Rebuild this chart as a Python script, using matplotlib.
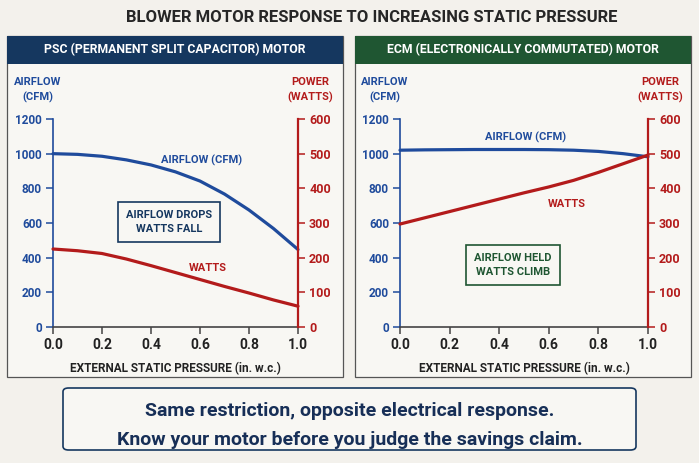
import numpy as np
import matplotlib.pyplot as plt
from matplotlib.patches import Rectangle, FancyBboxPatch

plt.rcParams['font.family'] = ['Roboto', 'DejaVu Sans']
plt.rcParams['font.weight'] = 'bold'

# data
pressure = [0.0, 0.1, 0.2, 0.3, 0.4, 0.5, 0.6, 0.7, 0.8, 0.9, 1.0]
psc_airflow = [1000, 996, 985, 964, 935, 895, 842, 767, 675, 568, 447]
psc_watts = [225, 220, 212, 196, 177, 157, 137, 117, 98, 78, 60]
ecm_airflow = [1020, 1022, 1023, 1024, 1024, 1024, 1023, 1020, 1013, 1000, 982]
ecm_watts = [297, 315, 333, 351, 369, 387, 404, 423, 446, 471, 496]

cfm_ticks = [0, 200, 400, 600, 800, 1000, 1200]
watt_ticks = [0, 100, 200, 300, 400, 500, 600]
x_ticks = [0.0, 0.2, 0.4, 0.6, 0.8, 1.0]

BG = '#f3f1ec'
PANEL = '#f8f7f3'
BLUE = '#1f4b9c'
RED = '#b31b1b'
NAVY = '#15375f'
GREEN = '#1f5632'
DARK = '#222222'

W, H = 699, 463
fig = plt.figure(figsize=(W / 100, H / 100), dpi=100, facecolor=BG)


def px(x, y):
    return x / W, 1 - y / H


def box(x0, y0, x1, y1, **kw):
    fig.patches.append(Rectangle((x0 / W, 1 - y1 / H), (x1 - x0) / W, (y1 - y0) / H,
                                 transform=fig.transFigure, **kw))


fig.text(*px(372, 18), 'BLOWER MOTOR RESPONSE TO INCREASING STATIC PRESSURE',
         ha='center', va='center', fontsize=12, color='#262626', weight='bold')


def panel(x0, x1, header, hcolor, ax_x0, ax_x1, airflow, watts,
          af_lbl, w_lbl, note, note_pos, note_color):
    box(x0, 36, x1, 377, facecolor=PANEL, edgecolor='#555555', lw=0.9, zorder=-2)
    box(x0, 36, x1, 64, facecolor=hcolor, edgecolor='none', zorder=-1)
    fig.text(*px((x0 + x1) / 2, 50), header, ha='center', va='center',
             color='white', fontsize=8.8, weight='bold')

    l, b = px(ax_x0, 327)
    ax = fig.add_axes([l, b, (ax_x1 - ax_x0) / W, 208 / H])
    ax.set_facecolor('none')
    ax2 = ax.twinx()

    ax.plot(pressure, airflow, color=BLUE, lw=2.3, solid_capstyle='round',
            solid_joinstyle='round', clip_on=False)
    ax2.plot(pressure, watts, color=RED, lw=2.3, solid_capstyle='round',
             solid_joinstyle='round', clip_on=False)

    ax.set_xlim(0, 1)
    ax.set_ylim(0, 1200)
    ax2.set_ylim(0, 600)
    ax.set_xticks(x_ticks)
    ax.set_xticklabels(['%.1f' % v for v in x_ticks])
    ax.set_yticks(cfm_ticks)
    ax2.set_yticks(watt_ticks)

    for a in (ax, ax2):
        a.spines['top'].set_visible(False)
    ax.spines['right'].set_visible(False)
    ax.spines['left'].set_color(BLUE)
    ax2.spines['left'].set_visible(False)
    ax2.spines['bottom'].set_visible(False)
    ax2.spines['right'].set_color(RED)
    ax2.spines['right'].set_linewidth(1.6)
    ax.spines['left'].set_linewidth(1.2)
    ax.spines['bottom'].set_color('#444444')
    ax.spines['bottom'].set_linewidth(1.2)

    ax.tick_params(axis='y', colors=BLUE, labelsize=8.5, length=5, width=1.1, pad=3)
    ax2.tick_params(axis='y', colors=RED, labelsize=9, length=5, width=1.1, pad=3)
    ax.tick_params(axis='x', colors='#444444', labelcolor=DARK, labelsize=10,
                   length=5, width=1.1, pad=3)
    for t in ax.get_xticklabels() + ax.get_yticklabels() + ax2.get_yticklabels():
        t.set_fontweight('bold')

    ax.set_xlabel('EXTERNAL STATIC PRESSURE (in. w.c.)', fontsize=8.5,
                  color=DARK, weight='bold', labelpad=7)

    fig.text(*px(ax_x0 - 15, 90), 'AIRFLOW\n(CFM)', ha='center', va='center',
             color=BLUE, fontsize=8, weight='bold', linespacing=1.5)
    fig.text(*px(ax_x1 + 12, 90), 'POWER\n(WATTS)', ha='center', va='center',
             color=RED, fontsize=8, weight='bold', linespacing=1.5)

    fig.text(*px(*af_lbl), 'AIRFLOW (CFM)', ha='center', va='center',
             color=BLUE, fontsize=8, weight='bold')
    fig.text(*px(*w_lbl), 'WATTS', ha='center', va='center',
             color=RED, fontsize=8, weight='bold')
    fig.text(*px(*note_pos), note, ha='center', va='center', color=note_color,
             fontsize=8, weight='bold', linespacing=1.6,
             bbox=dict(boxstyle='square,pad=0.7', facecolor=PANEL,
                       edgecolor=note_color, lw=1.2))


panel(7, 343, 'PSC (PERMANENT SPLIT CAPACITOR) MOTOR', NAVY, 53, 298,
      psc_airflow, psc_watts, (202, 160), (208, 268),
      'AIRFLOW DROPS\nWATTS FALL', (169, 222), NAVY)
panel(355, 691, 'ECM (ELECTRONICALLY COMMUTATED) MOTOR', GREEN, 400, 648,
      ecm_airflow, ecm_watts, (526, 137), (567, 204),
      'AIRFLOW HELD\nWATTS CLIMB', (513, 265), GREEN)

fig.patches.append(FancyBboxPatch((63 / W, 1 - 450 / H), (636 - 63) / W, (450 - 388) / H,
                                  boxstyle='round,pad=0,rounding_size=0.008',
                                  transform=fig.transFigure, facecolor=PANEL,
                                  edgecolor=NAVY, lw=1.2, zorder=-1))
fig.text(*px(350, 411), 'Same restriction, opposite electrical response.',
         ha='center', va='center', color='#172f57', fontsize=14, weight='bold')
fig.text(*px(350, 440), 'Know your motor before you judge the savings claim.',
         ha='center', va='center', color='#172f57', fontsize=14, weight='bold')

fig.savefig('out.png', dpi=100, facecolor=BG)
